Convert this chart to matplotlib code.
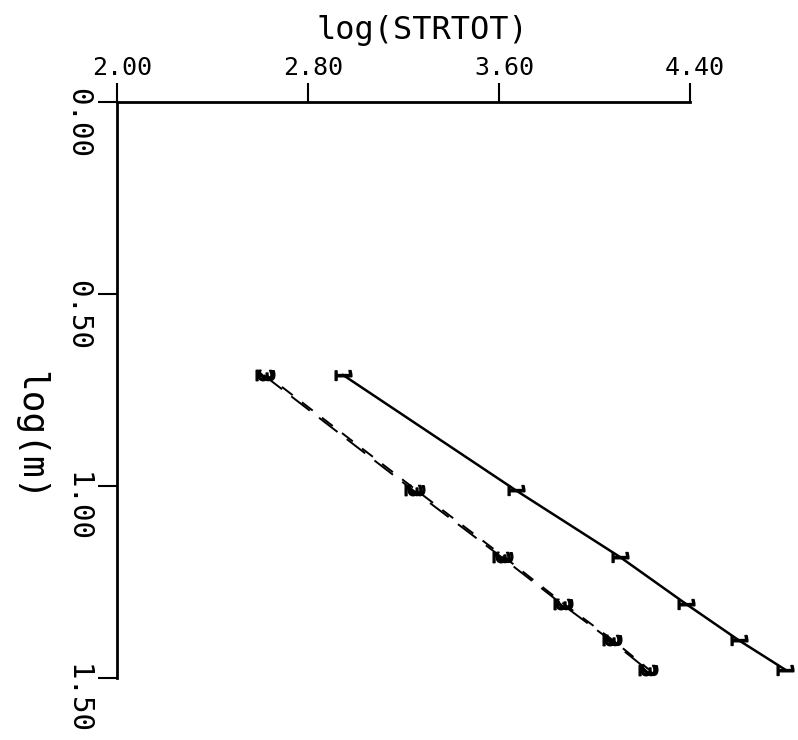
import numpy as np
import matplotlib
matplotlib.use('Agg')
import matplotlib.pyplot as plt
from matplotlib.markers import MarkerStyle
from matplotlib.transforms import Affine2D, ScaledTranslation

# данные
log_m = [0.711, 1.011, 1.185, 1.307, 1.402, 1.478]
strtot_1 = [2.947, 3.670, 4.107, 4.383, 4.605, 4.798]
strtot_2 = [2.614, 3.240, 3.610, 3.862, 4.068, 4.220]
strtot_3 = [2.626, 3.254, 3.622, 3.872, 4.078, 4.228]

x_ticks = [2.00, 2.80, 3.60, 4.40]
x_labels = ['2.00', '2.80', '3.60', '4.40']
y_ticks = [0.00, 0.50, 1.00, 1.50]
y_labels = ['0.00', '0.50', '1.00', '1.50']

plt.rcParams['font.family'] = ['DejaVu Sans Mono']

fig = plt.figure(figsize=(7.98, 7.40), dpi=100)
W, H = 798, 740
ax = fig.add_axes([117 / W, 1 - 678 / H, (690 - 117) / W, (678 - 102) / H])


def rot_marker(ch):
    return MarkerStyle('$' + ch + '$', transform=Affine2D().rotate_deg(-90))


ax.plot(strtot_1, log_m, color='black', lw=1.8, marker=rot_marker('1'),
        markersize=12, clip_on=False)
ax.plot(strtot_2, log_m, color='black', lw=1.4, linestyle=(0, (12, 6)),
        marker=rot_marker('2'), markersize=12, clip_on=False)
ax.plot(strtot_3, log_m, color='black', lw=1.4, linestyle=(3, (7, 6)),
        marker=rot_marker('3'), markersize=12, clip_on=False)

ax.set_xlim(2.0, 4.4)
ax.set_ylim(1.5, 0.0)

for s in ['right', 'bottom']:
    ax.spines[s].set_visible(False)
for s in ['top', 'left']:
    ax.spines[s].set_linewidth(2.0)

ax.xaxis.tick_top()
ax.xaxis.set_label_position('top')
ax.set_xticks(x_ticks, x_labels)
ax.set_yticks(y_ticks, y_labels)
ax.tick_params(axis='x', direction='out', length=14, width=1.5, pad=2, labelsize=18)
ax.tick_params(axis='y', direction='out', length=14, width=1.5, pad=4, labelsize=21,
               labelrotation=-90)

for lab in ax.get_xticklabels():
    lab.set_transform(lab.get_transform() + ScaledTranslation(0.05, 0, fig.dpi_scale_trans))

# подписи оси y идут сверху вниз, начиная чуть выше риски
for lab in ax.get_yticklabels():
    lab.set_verticalalignment('top')
    lab.set_horizontalalignment('center')
    lab.set_transform(lab.get_transform() + ScaledTranslation(-0.14, 0.14, fig.dpi_scale_trans))

ax.set_xlabel('log(STRTOT)', fontsize=23)
ax.xaxis.set_label_coords(0.533, 1.125)
ax.xaxis.label.set_verticalalignment('center')

ax.set_ylabel('log(m)', fontsize=26, rotation=-90)
ax.yaxis.set_label_coords(-0.152, 0.42)
ax.yaxis.label.set_verticalalignment('center')
ax.yaxis.label.set_horizontalalignment('center')

fig.savefig('out.png', dpi=100)
